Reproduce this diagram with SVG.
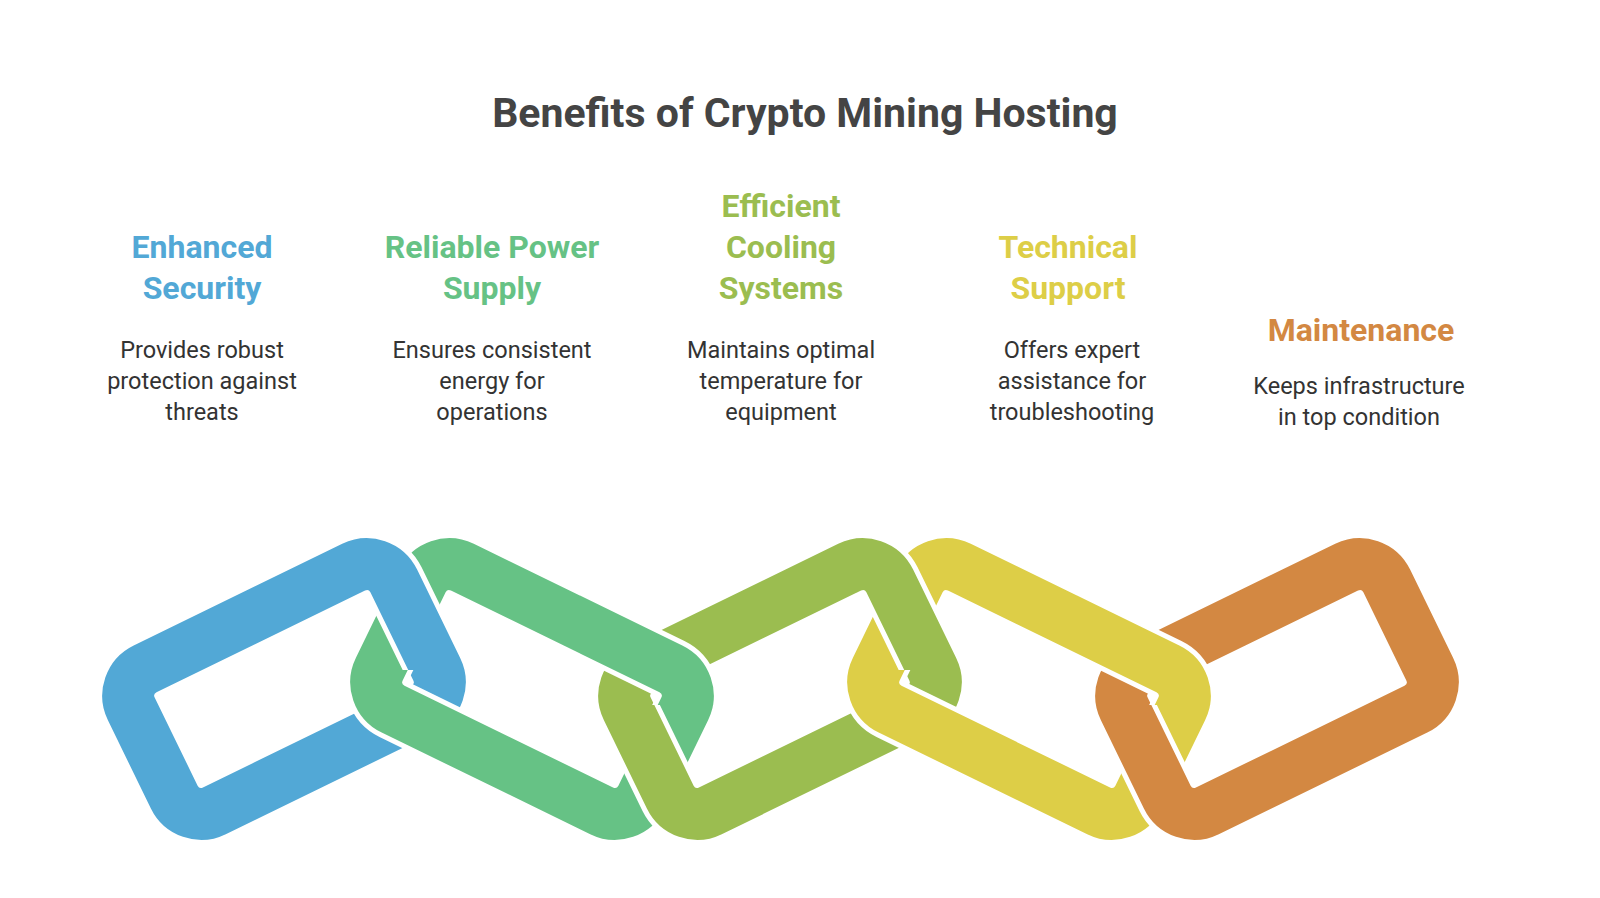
<svg xmlns="http://www.w3.org/2000/svg" xmlns:xlink="http://www.w3.org/1999/xlink" width="1600" height="898" viewBox="0 0 1600 898">
<style>
.t{font-family:Roboto,"Liberation Sans",sans-serif;text-anchor:middle}
.h{font-weight:bold;font-size:32px}
.d{font-size:23.5px;fill:#333}
.w{fill:none;stroke:#fff;stroke-width:62}
</style>
<defs>
<rect id="r" x="-146" y="-79" width="292" height="158" rx="30"/>
<clipPath id="c0"><rect x="360" y="490" width="120" height="180"/></clipPath>
<clipPath id="c1"><rect x="580" y="560" width="165" height="145"/></clipPath>
<clipPath id="c2"><rect x="856" y="490" width="120" height="180"/></clipPath>
<clipPath id="c3"><rect x="1077" y="560" width="165" height="145"/></clipPath>
<g id="L0"><use xlink:href="#r" class="w"/><use xlink:href="#r" fill="none" stroke="#52A8D6" stroke-width="52"/></g>
<g id="L1"><use xlink:href="#r" class="w"/><use xlink:href="#r" fill="none" stroke="#66C285" stroke-width="52"/></g>
<g id="L2"><use xlink:href="#r" class="w"/><use xlink:href="#r" fill="none" stroke="#9BBD50" stroke-width="52"/></g>
<g id="L3"><use xlink:href="#r" class="w"/><use xlink:href="#r" fill="none" stroke="#DDCE47" stroke-width="52"/></g>
<g id="L4"><use xlink:href="#r" class="w"/><use xlink:href="#r" fill="none" stroke="#D38842" stroke-width="52"/></g>
</defs>
<rect width="1600" height="898" fill="#fff"/>
<text class="t" x="805" y="127" font-size="41" font-weight="bold" fill="#444">Benefits of Crypto Mining Hosting</text>
<g id="connectors">
<use xlink:href="#L0" transform="translate(284,689) rotate(-26)"/>
<use xlink:href="#L1" transform="translate(532,689) rotate(26)"/>
<use xlink:href="#L2" transform="translate(780,689) rotate(-26)"/>
<use xlink:href="#L3" transform="translate(1029,689) rotate(26)"/>
<use xlink:href="#L4" transform="translate(1277,689) rotate(-26)"/>
<g clip-path="url(#c0)"><use xlink:href="#L0" transform="translate(284,689) rotate(-26)"/></g>
<g clip-path="url(#c1)"><use xlink:href="#L1" transform="translate(532,689) rotate(26)"/></g>
<g clip-path="url(#c2)"><use xlink:href="#L2" transform="translate(780,689) rotate(-26)"/></g>
<g clip-path="url(#c3)"><use xlink:href="#L3" transform="translate(1029,689) rotate(26)"/></g>
</g>
<g id="n1" class="t"><text class="h" fill="#52A8D6"><tspan x="202" y="258">Enhanced</tspan><tspan x="202" y="299">Security</tspan></text>
<text class="d"><tspan x="202" y="358">Provides robust</tspan><tspan x="202" y="389">protection against</tspan><tspan x="202" y="420">threats</tspan></text></g>
<g id="n2" class="t"><text class="h" fill="#66C285"><tspan x="492" y="258">Reliable Power</tspan><tspan x="492" y="299">Supply</tspan></text>
<text class="d"><tspan x="492" y="358">Ensures consistent</tspan><tspan x="492" y="389">energy for</tspan><tspan x="492" y="420">operations</tspan></text></g>
<g id="n3" class="t"><text class="h" fill="#9BBD50"><tspan x="781" y="217">Efficient</tspan><tspan x="781" y="258">Cooling</tspan><tspan x="781" y="299">Systems</tspan></text>
<text class="d"><tspan x="781" y="358">Maintains optimal</tspan><tspan x="781" y="389">temperature for</tspan><tspan x="781" y="420">equipment</tspan></text></g>
<g id="n4" class="t"><text class="h" fill="#DDCE47"><tspan x="1068" y="258">Technical</tspan><tspan x="1068" y="299">Support</tspan></text>
<text class="d"><tspan x="1072" y="358">Offers expert</tspan><tspan x="1072" y="389">assistance for</tspan><tspan x="1072" y="420">troubleshooting</tspan></text></g>
<g id="n5" class="t"><text class="h" fill="#D38842"><tspan x="1361" y="341">Maintenance</tspan></text>
<text class="d"><tspan x="1359" y="394">Keeps infrastructure</tspan><tspan x="1359" y="425">in top condition</tspan></text></g>
</svg>
